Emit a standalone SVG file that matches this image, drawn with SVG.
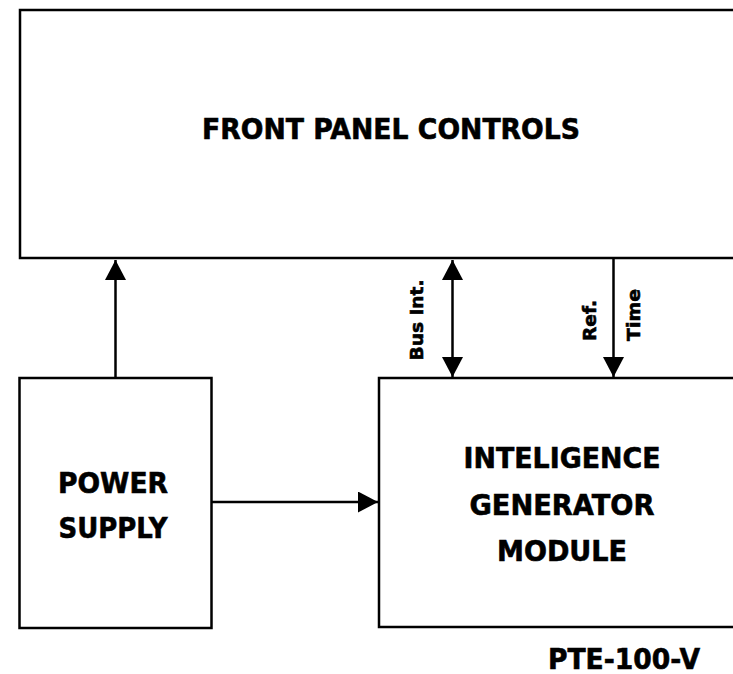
<svg xmlns="http://www.w3.org/2000/svg" width="733" height="674" viewBox="0 0 733 674">
<style>
.box{fill:#fff;stroke:#000;stroke-width:2.5}
.lbl{font-family:"DejaVu Sans","Liberation Sans",sans-serif;font-weight:bold;fill:#000;stroke:#000;stroke-width:0.6;text-anchor:middle}
.big{font-size:27.5px}
.small{font-size:18.5px}
.conn{stroke:#000;stroke-width:2.5;fill:none}
</style>
<defs>
<marker id="ah" viewBox="0 0 20 21" refX="20" refY="10.5" markerWidth="20" markerHeight="21" markerUnits="userSpaceOnUse" orient="auto-start-reverse">
<path d="M0,0 L20,10.5 L0,21 Z" fill="#000"/>
</marker>
</defs>
<rect width="733" height="674" fill="#fff"/>
<g id="front-panel">
<rect class="box" x="20" y="10" width="730" height="248"/>
<text class="lbl big" x="391" y="139" textLength="378" lengthAdjust="spacingAndGlyphs">FRONT PANEL CONTROLS</text>
</g>
<g id="power-supply">
<rect class="box" x="19.5" y="378" width="192" height="250"/>
<text class="lbl big" x="113" y="493" textLength="110" lengthAdjust="spacingAndGlyphs">POWER</text>
<text class="lbl big" x="113" y="538" textLength="109" lengthAdjust="spacingAndGlyphs">SUPPLY</text>
</g>
<g id="igm">
<rect class="box" x="379" y="378" width="370" height="249"/>
<text class="lbl big" x="562" y="468" textLength="197" lengthAdjust="spacingAndGlyphs">INTELIGENCE</text>
<text class="lbl big" x="562" y="515" textLength="185" lengthAdjust="spacingAndGlyphs">GENERATOR</text>
<text class="lbl big" x="562" y="561" textLength="130" lengthAdjust="spacingAndGlyphs">MODULE</text>
</g>
<g id="model">
<text class="lbl big" x="624" y="669" textLength="152" lengthAdjust="spacingAndGlyphs">PTE-100-V</text>
</g>
<g id="connectors">
<line class="conn" x1="115.5" y1="378" x2="115.5" y2="260" marker-end="url(#ah)"/>
<line class="conn" x1="452.5" y1="260" x2="452.5" y2="377" marker-start="url(#ah)" marker-end="url(#ah)"/>
<line class="conn" x1="613.5" y1="259" x2="613.5" y2="377" marker-end="url(#ah)"/>
<line class="conn" x1="212" y1="502" x2="378" y2="502" marker-end="url(#ah)"/>
<text class="lbl small" transform="translate(423,320) rotate(-90)" x="0" y="0" textLength="81" lengthAdjust="spacingAndGlyphs">Bus Int.</text>
<text class="lbl small" style="text-anchor:start" transform="translate(596,341) rotate(-90)" x="0" y="0" textLength="41" lengthAdjust="spacingAndGlyphs">Ref.</text>
<text class="lbl small" style="text-anchor:start" transform="translate(640,341) rotate(-90)" x="0" y="0" textLength="52" lengthAdjust="spacingAndGlyphs">Time</text>
</g>
</svg>
